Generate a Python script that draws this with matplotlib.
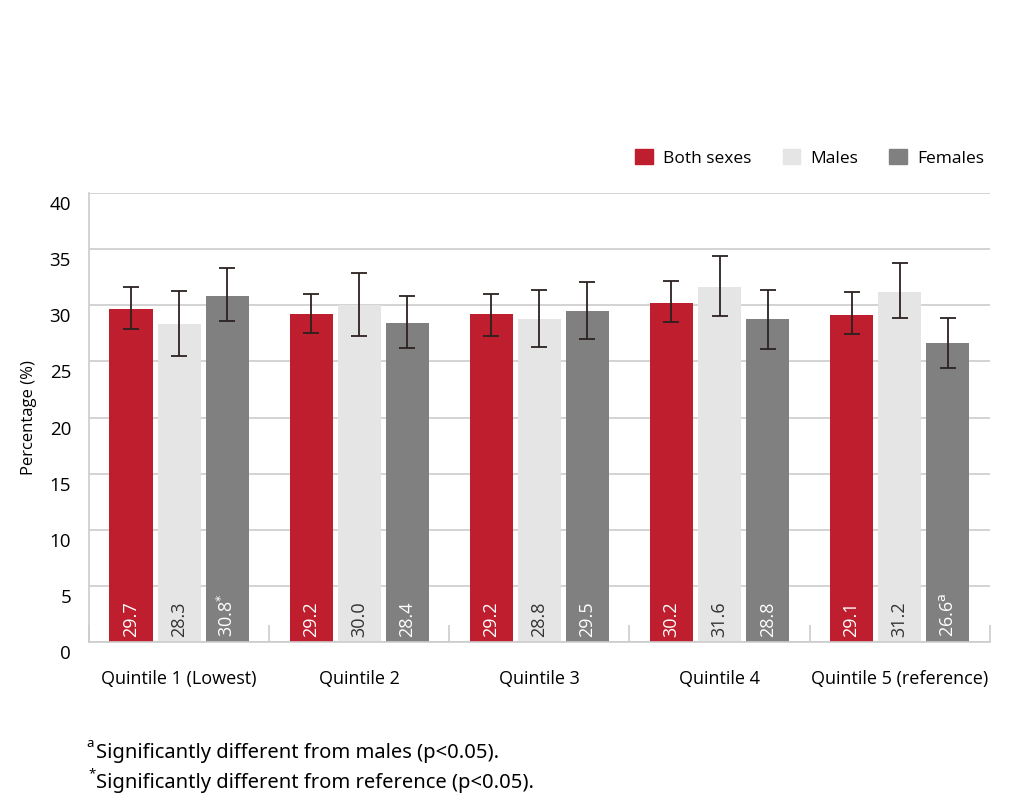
import numpy as np
import matplotlib.pyplot as plt
import matplotlib.transforms as mtrans
from matplotlib.patches import Patch

groups = ['Quintile 1 (Lowest)', 'Quintile 2', 'Quintile 3', 'Quintile 4', 'Quintile 5 (reference)']
series = ['Both sexes', 'Males', 'Females']

both = [29.7, 29.2, 29.2, 30.2, 29.1]
males = [28.3, 30.0, 28.8, 31.6, 31.2]
females = [30.8, 28.4, 29.5, 28.8, 26.6]

both_lo = [27.9, 27.5, 27.3, 28.5, 27.4]
both_hi = [31.6, 31.0, 31.0, 32.2, 31.2]
males_lo = [25.5, 27.3, 26.3, 29.0, 28.9]
males_hi = [31.3, 32.9, 31.4, 34.4, 33.8]
females_lo = [28.6, 26.2, 27.0, 26.1, 24.4]
females_hi = [33.3, 30.8, 32.1, 31.4, 28.9]

labels_both = ['29.7', '29.2', '29.2', '30.2', '29.1']
labels_males = ['28.3', '30.0', '28.8', '31.6', '31.2']
labels_females = ['30.8$^{*}$', '28.4', '29.5', '28.8', '26.6$^{\\mathrm{a}}$']

colors = ['#BE1E2D', '#E5E5E5', '#808080']
txtcol = ['white', '#333333', 'white']

plt.rcParams['font.family'] = ['Open Sans', 'DejaVu Sans']

fig = plt.figure(figsize=(10.12, 8.05), dpi=100)
ax = fig.add_axes([0.088, 0.2025, 0.89, 0.5577])

x = np.arange(len(groups))
w = 0.24
step = 0.267
vals = [both, males, females]
los = [both_lo, males_lo, females_lo]
his = [both_hi, males_hi, females_hi]
labs = [labels_both, labels_males, labels_females]

for i in range(3):
	xs = x + (i - 1) * step
	v = np.array(vals[i])
	err = [v - np.array(los[i]), np.array(his[i]) - v]
	ax.bar(xs, v, w, color=colors[i], zorder=2)
	ax.errorbar(xs, v, yerr=err, fmt='none', ecolor='#2B2220', elinewidth=1.3,
		capsize=6, capthick=1.3, zorder=3)
	for j in range(len(groups)):
		ax.text(xs[j], 0.45, labs[i][j], rotation=90, ha='center', va='bottom',
			color=txtcol[i], fontsize=13, zorder=4)

ax.set_xlim(-0.5, 4.5)
ax.set_ylim(0, 40)
ax.set_yticks(range(0, 41, 5))
ax.yaxis.grid(True, color='#CCCCCC', linewidth=1.2, zorder=0)
ax.set_axisbelow(True)

ax.set_xticks(x)
ax.set_xticklabels(groups, fontsize=13)
ax.set_xticks(np.arange(-0.5, 4.6, 1), minor=True)
ax.tick_params(axis='x', which='major', length=0, pad=20)
ax.tick_params(axis='x', which='minor', direction='in', length=12, color='#CCCCCC', width=1.2)
ax.tick_params(axis='y', length=0, labelsize=13.5, pad=13)

# y labels sit a little below their gridlines in the original
off = mtrans.ScaledTranslation(0, -10 / 100.0, fig.dpi_scale_trans)
for lab in ax.get_yticklabels():
	lab.set_transform(lab.get_transform() + off)

for s in ['top', 'right']:
	ax.spines[s].set_visible(False)
ax.spines['left'].set_color('#CCCCCC')
ax.spines['bottom'].set_color('#CCCCCC')
ax.spines['left'].set_linewidth(1.2)
ax.spines['bottom'].set_linewidth(1.2)

ax.set_ylabel('Percentage (%)', fontsize=12, labelpad=9)

handles = [Patch(color=c, label=s) for c, s in zip(colors, series)]
fig.legend(handles=handles, loc='center right', bbox_to_anchor=(0.988, 0.804), ncol=3,
	frameon=False, fontsize=12.5, handlelength=1.0, handleheight=1.0, columnspacing=1.8,
	handletextpad=0.6)

fn = ['Noto Sans', 'DejaVu Sans']
fig.text(0.085, 0.072, 'a', fontsize=9.5, family=fn)
fig.text(0.095, 0.058, 'Significantly different from males (p<0.05).', fontsize=14.5, family=fn)
fig.text(0.087, 0.034, '*', fontsize=9.5, family=fn)
fig.text(0.095, 0.021, 'Significantly different from reference (p<0.05).', fontsize=14.5, family=fn)

plt.savefig('out.png', dpi=100)
